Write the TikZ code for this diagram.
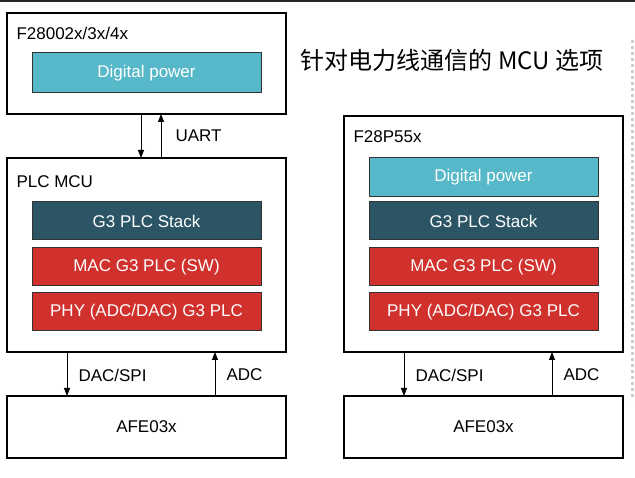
\documentclass[tikz,border=0pt]{standalone}
\usepackage{fontspec}
\setmainfont{Liberation Sans}
\newfontfamily\cjk{Noto Sans CJK SC}
\usetikzlibrary{arrows.meta}
\definecolor{teal1}{HTML}{56B8C8}
\definecolor{dteal}{HTML}{2B5564}
\definecolor{pred}{HTML}{D0312D}
\begin{document}
\begin{tikzpicture}[x=1pt,y=-1pt,
 outer/.style={draw=black,line width=1.3pt,fill=white},
 blk/.style={draw=black!80,line width=1pt,text=white,font=\fontsize{17}{20}\selectfont},
 lbl/.style={anchor=west,font=\fontsize{17}{20}\selectfont},
 arr/.style={-{Triangle[length=8pt,width=6pt]},line width=0.8pt}]
\useasboundingbox[fill=white] (0,0) rectangle (635,478);
\draw[line width=2pt,black!85] (0,1) -- (635,1);
\draw[black!20,line width=3pt,dash pattern=on 3pt off 3pt] (632,40) -- (632,400);
% left
\draw[outer] (7,13) rectangle (286,114);
\node[lbl] (l1) at (13,33) {F28002x/3x/4x};
\draw[blk,fill=teal1] (32,53) rectangle node (dp1) {Digital power} (261,93);
\draw[outer] (7,158) rectangle (286,352);
\node[lbl] (l2) at (13,182) {PLC MCU};
\draw[blk,fill=dteal] (32,202) rectangle node (g1) {G3 PLC Stack} (261,240);
\draw[blk,fill=pred] (32,248) rectangle node (m1) {MAC G3 PLC (SW)} (261,286);
\draw[blk,fill=pred] (32,293) rectangle node (p1) {PHY (ADC/DAC) G3 PLC} (261,331);
\draw[outer] (7,396) rectangle node[font=\fontsize{17}{20}\selectfont] (afe1) {AFE03x} (286,458);
\coordinate (a1) at (141,114); \coordinate (a2) at (141,158);
\coordinate (b1) at (161,158); \coordinate (b2) at (161,114);
\draw[arr] (a1) -- (a2); \draw[arr] (b1) -- (b2);
\node[lbl] (uart) at (172,136) {UART};
\coordinate (c1) at (67,352); \coordinate (c2) at (67,396);
\coordinate (d1) at (215,396); \coordinate (d2) at (215,352);
\draw[arr] (c1) -- (c2); \draw[arr] (d1) -- (d2);
\node[lbl] (ds1) at (75,375) {DAC/SPI};
\node[lbl] (adc1) at (223,375) {ADC};
% title
\node[font=\cjk\fontsize{24}{28}\selectfont] (title) at (452,60) {针对电力线通信的 MCU 选项};
% right
\draw[outer] (344,116) rectangle (623,352);
\node[lbl] (r1) at (350,137) {F28P55x};
\draw[blk,fill=teal1] (369,158) rectangle node (dp2) {Digital power} (598,197);
\draw[blk,fill=dteal] (369,202) rectangle node (g2) {G3 PLC Stack} (598,240);
\draw[blk,fill=pred] (369,248) rectangle node (m2) {MAC G3 PLC (SW)} (598,286);
\draw[blk,fill=pred] (369,293) rectangle node (p2) {PHY (ADC/DAC) G3 PLC} (598,331);
\draw[outer] (344,396) rectangle node[font=\fontsize{17}{20}\selectfont] (afe2) {AFE03x} (623,458);
\coordinate (e1) at (404,352); \coordinate (e2) at (404,396);
\coordinate (f1) at (552,396); \coordinate (f2) at (552,352);
\draw[arr] (e1) -- (e2); \draw[arr] (f1) -- (f2);
\node[lbl] (ds2) at (412,375) {DAC/SPI};
\node[lbl] (adc2) at (560,375) {ADC};
\end{tikzpicture}
\end{document}
